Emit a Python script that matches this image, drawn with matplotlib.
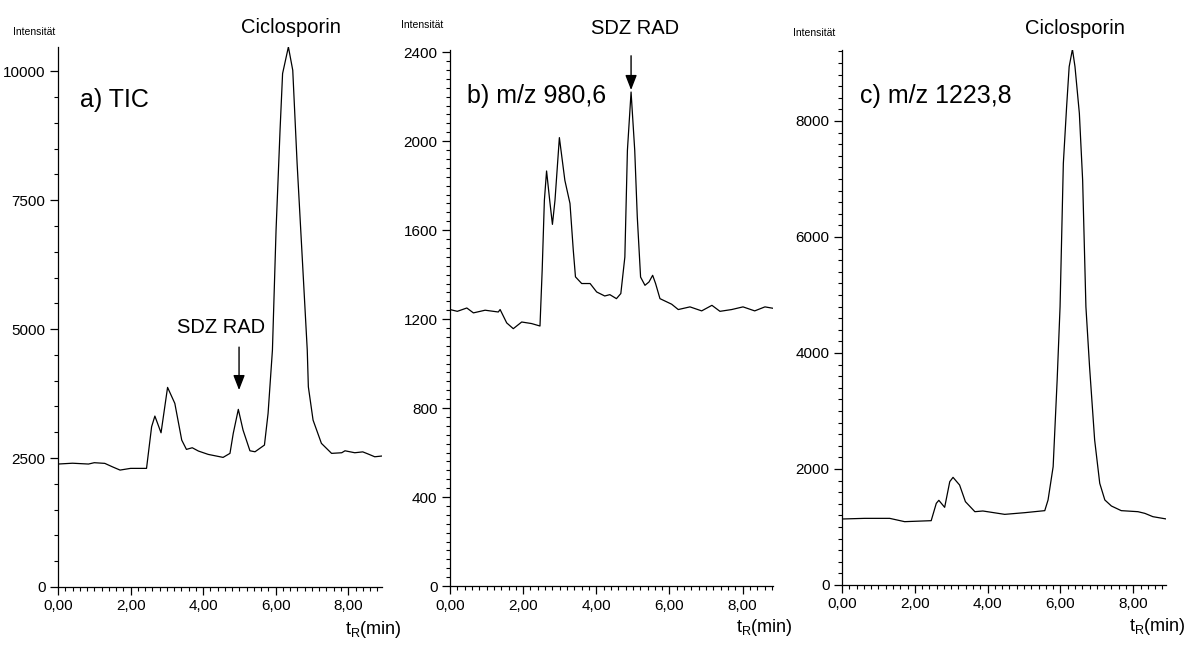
import numpy as np
import matplotlib
matplotlib.use("Agg")
import matplotlib.pyplot as plt
from matplotlib.ticker import MultipleLocator

plt.rcParams['font.family'] = ['Liberation Sans Narrow', 'Liberation Sans', 'DejaVu Sans']

# a) TIC
t_a = [0.00, 0.40, 0.84, 1.00, 1.29, 1.50, 1.71, 2.00, 2.44, 2.58, 2.67, 2.84, 3.02, 3.22,
       3.41, 3.54, 3.70, 3.87, 4.14, 4.55, 4.74, 4.83, 4.97, 5.10, 5.29, 5.43, 5.69, 5.79,
       5.91, 6.01, 6.12, 6.19, 6.35, 6.47, 6.59, 6.74, 6.87, 6.90, 7.03, 7.26, 7.54, 7.82,
       7.91, 8.18, 8.40, 8.55, 8.73, 8.92]
i_a = [2384, 2400, 2384, 2410, 2397, 2330, 2267, 2300, 2300, 3107, 3314, 2990, 3870, 3560,
       2849, 2668, 2700, 2636, 2571, 2513, 2591, 2978, 3444, 3043, 2641, 2622, 2752, 3366,
       4593, 6919, 8857, 9955, 10471, 10020, 8217, 6279, 4593, 3882, 3236, 2785, 2591, 2603,
       2641, 2603, 2620, 2578, 2525, 2539]

# b) m/z 980,6
t_b = [0.00, 0.20, 0.46, 0.64, 0.96, 1.32, 1.37, 1.55, 1.73, 1.96, 2.23, 2.46, 2.52, 2.58,
       2.64, 2.73, 2.80, 2.87, 2.99, 3.14, 3.28, 3.37, 3.43, 3.60, 3.83, 4.01, 4.23, 4.37,
       4.55, 4.67, 4.78, 4.85, 4.95, 5.05, 5.12, 5.21, 5.33, 5.44, 5.54, 5.62, 5.74, 6.06,
       6.24, 6.56, 6.88, 7.16, 7.38, 7.70, 8.01, 8.33, 8.61, 8.89]
i_b = [1243, 1235, 1250, 1228, 1240, 1232, 1243, 1183, 1157, 1187, 1180, 1169, 1420, 1734,
       1866, 1727, 1626, 1734, 2016, 1824, 1720, 1510, 1390, 1360, 1360, 1322, 1304, 1310,
       1292, 1315, 1479, 1959, 2221, 1959, 1659, 1389, 1352, 1367, 1397, 1360, 1292, 1267,
       1243, 1255, 1237, 1262, 1235, 1243, 1255, 1237, 1255, 1247]

# c) m/z 1223,8
t_c = [0.00, 0.62, 1.31, 1.72, 2.45, 2.59, 2.66, 2.82, 2.96, 3.05, 3.23, 3.39, 3.65, 3.87,
       4.47, 5.02, 5.57, 5.66, 5.80, 5.91, 5.99, 6.08, 6.17, 6.24, 6.33, 6.40, 6.52, 6.61,
       6.70, 6.80, 6.94, 7.08, 7.22, 7.40, 7.67, 8.13, 8.32, 8.54, 8.91]
i_c = [1138, 1149, 1149, 1092, 1109, 1408, 1460, 1339, 1782, 1856, 1724, 1437, 1264, 1276,
       1218, 1247, 1282, 1466, 2040, 3534, 4798, 7270, 8247, 8936, 9236, 8936, 8132, 6983,
       4798, 3764, 2500, 1753, 1466, 1362, 1282, 1264, 1235, 1178, 1138]

x_major = [0, 2, 4, 6, 8]
x_labels = ['0,00', '2,00', '4,00', '6,00', '8,00']

fig = plt.figure(figsize=(11.91, 6.46), dpi=100)
W, H = 1191.0, 646.0


def panel(rect, t, y, ymax, yticks, yminor, xmax):
    left, right, top, bottom = rect
    ax = fig.add_axes([left / W, 1 - bottom / H, (right - left) / W, (bottom - top) / H])
    ax.plot(t, y, color='black', lw=0.9)
    ax.set_xlim(0, xmax)
    ax.set_ylim(0, ymax)
    for s in ['top', 'right']:
        ax.spines[s].set_visible(False)
    for s in ['left', 'bottom']:
        ax.spines[s].set_linewidth(0.9)
    ax.set_xticks(x_major)
    ax.set_xticklabels(x_labels)
    ax.xaxis.set_minor_locator(MultipleLocator(0.2))
    ax.set_yticks(yticks)
    ax.set_yticklabels([str(v) for v in yticks])
    ax.yaxis.set_minor_locator(MultipleLocator(yminor))
    ax.tick_params(which='major', length=6, width=0.9, labelsize=11, pad=3)
    ax.tick_params(which='minor', length=3, width=0.8)
    ax.text(0.885, -0.078, r'$\mathregular{t_R}$(min)', transform=ax.transAxes,
            ha='left', va='center', fontsize=13)
    return ax


ax_a = panel((58, 382, 47, 587), t_a, i_a, 10470, [0, 2500, 5000, 7500, 10000], 500, 8.93)
ax_b = panel((450, 773, 50, 586), t_b, i_b, 2410, [0, 400, 800, 1200, 1600, 2000, 2400], 40, 8.83)
ax_c = panel((842, 1166, 50, 585), t_c, i_c, 9224, [0, 2000, 4000, 6000, 8000], 200, 8.90)

ax_a.text(-0.074, 1.028, 'Intensität', transform=ax_a.transAxes, ha='center', va='center', fontsize=7.5)
ax_b.text(-0.087, 1.047, 'Intensität', transform=ax_b.transAxes, ha='center', va='center', fontsize=7.5)
ax_c.text(-0.086, 1.032, 'Intensität', transform=ax_c.transAxes, ha='center', va='center', fontsize=7.5)

# panel titles
ax_a.text(0.61, 9438, 'a) TIC', ha='left', va='center', fontsize=18)
ax_b.text(0.46, 2202, 'b) m/z 980,6', ha='left', va='center', fontsize=18)
ax_c.text(0.49, 8431, 'c) m/z 1223,8', ha='left', va='center', fontsize=18)

# peak labels
ax_a.text(6.42, 10853, 'Ciclosporin', ha='center', va='center', fontsize=14.5)
ax_c.text(6.39, 9603, 'Ciclosporin', ha='center', va='center', fontsize=14.5)
ax_a.text(4.50, 5039, 'SDZ RAD', ha='center', va='center', fontsize=14.5)
ax_b.text(5.07, 2508, 'SDZ RAD', ha='center', va='center', fontsize=14.5)

arrow = dict(arrowstyle='-|>,head_length=0.9,head_width=0.35', color='black', lw=1.0,
             shrinkA=0, shrinkB=0)
ax_a.annotate('', xy=(4.99, 3818), xytext=(4.99, 4651), arrowprops=arrow)
ax_b.annotate('', xy=(4.95, 2230), xytext=(4.95, 2384), arrowprops=arrow, annotation_clip=False)

fig.savefig('out.png', dpi=100)
